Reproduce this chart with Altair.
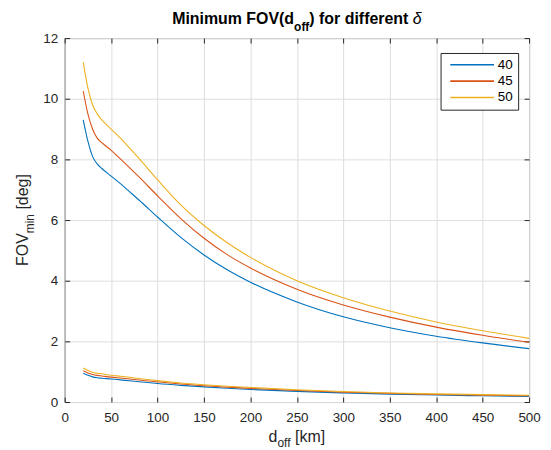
import altair as alt
import pandas as pd

# ---------------- data ----------------
x_km = [20, 25, 30, 35, 40, 50, 60, 70, 80, 100, 125, 150, 175, 200, 250, 300, 350, 400, 450, 500]

deltas = ["40", "45", "50"]
colors = ["#0072BD", "#D95319", "#EDB120"]

upper_40 = [9.3, 8.6, 8.1, 7.85, 7.7, 7.45, 7.2, 6.93, 6.66, 6.1, 5.43, 4.85, 4.36, 3.95, 3.3, 2.81, 2.45, 2.17, 1.95, 1.76]
upper_45 = [10.25, 9.5, 9.0, 8.7, 8.55, 8.3, 8.02, 7.72, 7.42, 6.8, 6.05, 5.4, 4.86, 4.42, 3.72, 3.2, 2.8, 2.47, 2.2, 1.97]
upper_50 = [11.2, 10.35, 9.8, 9.5, 9.3, 9.0, 8.7, 8.37, 8.03, 7.33, 6.5, 5.82, 5.25, 4.77, 4.0, 3.44, 3.0, 2.64, 2.35, 2.1]

lower_40 = [0.95, 0.88, 0.83, 0.8, 0.785, 0.76, 0.73, 0.7, 0.67, 0.61, 0.55, 0.5, 0.455, 0.415, 0.35, 0.3, 0.26, 0.23, 0.205, 0.185]
lower_45 = [1.03, 0.96, 0.91, 0.88, 0.86, 0.82, 0.79, 0.76, 0.725, 0.665, 0.595, 0.535, 0.49, 0.45, 0.38, 0.325, 0.285, 0.25, 0.225, 0.205]
lower_50 = [1.12, 1.04, 0.98, 0.95, 0.93, 0.885, 0.85, 0.815, 0.775, 0.705, 0.63, 0.57, 0.52, 0.48, 0.405, 0.345, 0.3, 0.27, 0.245, 0.225]

x_ticks = [0, 50, 100, 150, 200, 250, 300, 350, 400, 450, 500]
y_ticks = [0, 2, 4, 6, 8, 10, 12]

uppers = [upper_40, upper_45, upper_50]
lowers = [lower_40, lower_45, lower_50]

rows = []
for d, up, lo in zip(deltas, uppers, lowers):
    for xv, yv in zip(x_km, up):
        rows.append({"d_off": xv, "fov": yv, "delta": d, "branch": "upper"})
    for xv, yv in zip(x_km, lo):
        rows.append({"d_off": xv, "fov": yv, "delta": d, "branch": "lower"})
df = pd.DataFrame(rows)

# ---------------- layout ----------------
W, H = 467, 366
FONT = "Liberation Sans"
AX = "#262626"
GRID = "#dedede"

REG = {' ': 278, '[': 278, ']': 278, 'd': 556, 'o': 556, 'f': 278, 'k': 500, 'm': 833,
       'F': 611, 'O': 778, 'V': 667, 'i': 222, 'n': 556, 'e': 556, 'g': 556}
BOLD = {'M': 833, 'i': 278, 'n': 611, 'm': 889, 'u': 611, ' ': 278, 'F': 611, 'O': 778,
        'V': 667, '(': 333, ')': 333, 'd': 611, 'o': 611, 'f': 333, 'r': 389, 'e': 556, 't': 333}


def tw(s, size, bold=False):
    t = BOLD if bold else REG
    return sum(t.get(c, 556) for c in s) * size / 1000.0


def txt(s, x, y, size, weight="normal", style="normal", angle=0, color="#000000"):
    return alt.Chart(pd.DataFrame({"t": [s]})).mark_text(
        align="left", baseline="alphabetic", font=FONT, fontSize=size,
        fontWeight=weight, fontStyle=style, angle=angle, color=color
    ).encode(x=alt.value(x), y=alt.value(y), text="t:N")


xscale = alt.Scale(domain=[0, 500], nice=False, zero=False)
yscale = alt.Scale(domain=[0, 12], nice=False, zero=False)

common_axis = dict(title="", domain=False, tickSize=5, offset=-5, tickColor=AX, tickWidth=1,
                   labelFont=FONT, labelFontSize=13.5, labelColor=AX, labelFlush=False,
                   labelOverlap=False)

lines = alt.Chart(df).mark_line(strokeWidth=1.1, interpolate="monotone").encode(
    x=alt.X("d_off:Q", scale=xscale,
            axis=alt.Axis(orient="bottom", values=x_ticks, grid=True, gridColor=GRID,
                          labelPadding=9, **common_axis)),
    y=alt.Y("fov:Q", scale=yscale,
            axis=alt.Axis(orient="left", values=y_ticks, grid=True, gridColor=GRID,
                          labelPadding=7, **common_axis)),
    color=alt.Color("delta:N", scale=alt.Scale(domain=deltas, range=colors),
                    legend=alt.Legend(title=None, orient="none", legendX=378, legendY=15,
                                      symbolType="M-0.364,0L7.636,0", symbolSize=121,
                                      symbolStrokeWidth=1.6, labelOffset=39,
                                      labelFont=FONT, labelFontSize=13.5, labelColor="#000000",
                                      padding=5, strokeColor=AX, fillColor="white",
                                      rowPadding=1.5)),
    detail="branch:N",
)

mirror = alt.Chart(df).mark_line(opacity=0).encode(
    x=alt.X("d_off:Q", scale=xscale,
            axis=alt.Axis(orient="top", values=x_ticks, grid=False, labels=False, **common_axis)),
    y=alt.Y("fov:Q", scale=yscale,
            axis=alt.Axis(orient="right", values=y_ticks, grid=False, labels=False, **common_axis)),
    detail="branch:N",
)

SP16 = 0.278 * 16  # width of a space at 16px

# ---------------- title with subscript ----------------
t1, t2, t3, t4 = "Minimum FOV(d", "off", ") for different", "δ"
w1, w2, w3, w4 = tw(t1, 16, True), tw(t2, 12, True), tw(t3, 16, True), 0.556 * 16
x0 = W / 2 - (w1 + w2 + w3 + SP16 + w4) / 2
title_layers = [
    txt(t1, x0, -14, 16, "bold"),
    txt(t2, x0 + w1, -7, 12, "bold"),
    txt(t3, x0 + w1 + w2, -14, 16, "bold"),
    txt(t4, x0 + w1 + w2 + w3 + SP16, -14, 16, "normal", "italic"),
]

# ---------------- x label ----------------
a1, a2, a3 = "d", "off", "[km]"
v1, v2, v3 = tw(a1, 16), tw(a2, 12), tw(a3, 16)
xs = W / 2 - (v1 + v2 + SP16 + v3) / 2
xl_y = H + 40
xlabel_layers = [
    txt(a1, xs, xl_y, 16, color=AX),
    txt(a2, xs + v1, xl_y + 5, 12, color=AX),
    txt(a3, xs + v1 + v2 + SP16, xl_y, 16, color=AX),
]

# ---------------- y label (rotated) ----------------
b1, b2, b3 = "FOV", "min", "[deg]"
u1, u2, u3 = tw(b1, 16), tw(b2, 12), tw(b3, 16)
ys = H / 2 + (u1 + u2 + SP16 + u3) / 2
ylabel_layers = [
    txt(b1, -37, ys, 16, angle=270, color=AX),
    txt(b2, -31, ys - u1, 12, angle=270, color=AX),
    txt(b3, -37, ys - u1 - u2 - SP16, 16, angle=270, color=AX),
]

chart = alt.layer(lines, mirror, *title_layers, *xlabel_layers, *ylabel_layers).resolve_axis(
    x="independent", y="independent"
).properties(
    width=W, height=H,
    autosize=alt.AutoSizeParams(type="none"),
    padding={"left": 57, "top": 29, "right": 14, "bottom": 47},
).configure_view(stroke=AX, strokeWidth=1)

chart.save("out.html", embed_options={"renderer": "svg", "actions": False})
